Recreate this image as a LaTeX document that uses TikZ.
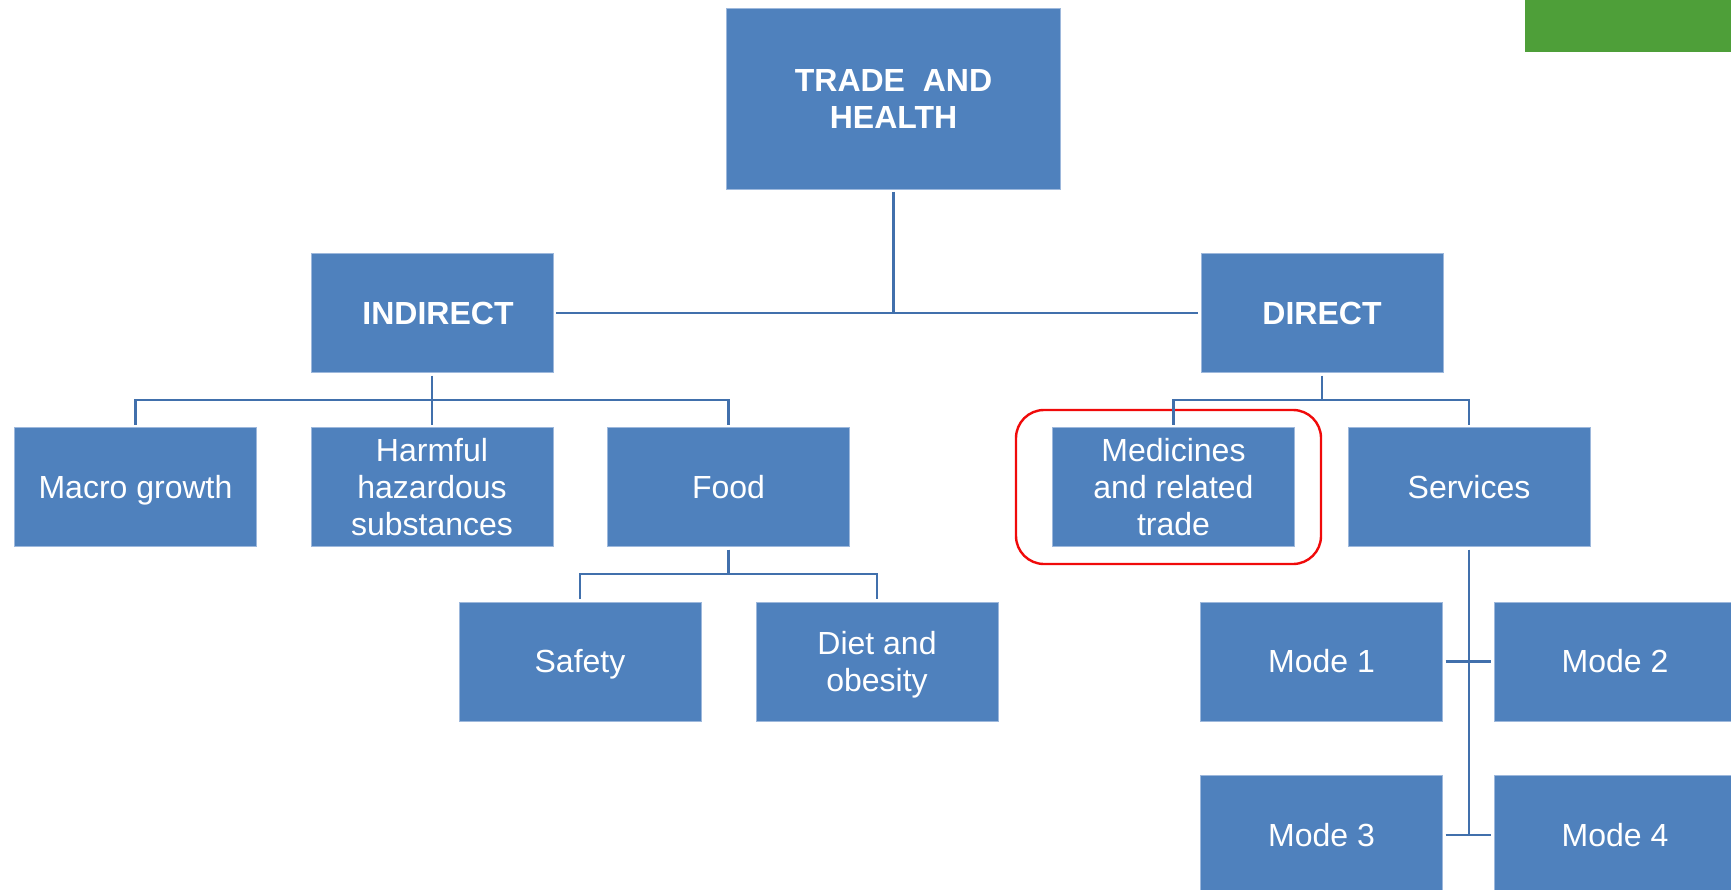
\documentclass[tikz,border=0pt]{standalone}
\usepackage{fontspec}
\setmainfont{Liberation Sans}
\usetikzlibrary{calc}
\definecolor{boxblue}{HTML}{4F81BD}
\definecolor{boxedge}{HTML}{9DB8DC}
\definecolor{linkblue}{HTML}{4170AC}
\definecolor{hlred}{HTML}{F00A0A}
\definecolor{corner}{HTML}{4E9F39}
\begin{document}
\begin{tikzpicture}[x=1pt,y=-1pt,
  box/.style={rectangle,fill=boxblue,draw=boxedge,line width=0.8pt,text=white,
    align=center,minimum width=242pt,minimum height=119pt,inner sep=0pt,outer sep=3pt,
    font=\fontsize{32}{36.8}\selectfont},
  one/.style={text height=29pt,text depth=6.8pt},
  topbox/.style={box,minimum width=334pt,minimum height=181pt,font=\fontsize{32}{37}\selectfont\bfseries},
  headbox/.style={box,font=\fontsize{32}{37}\selectfont\bfseries},
  link/.style={draw=linkblue,line width=2.2pt},
  highlight/.style={draw=hlred,line width=2.4pt,rounded corners=28pt}]
\clip (0,0) rectangle (1731,890);
\fill[white] (0,0) rectangle (1731,890);
\fill[corner] (1525,0) rectangle (1731,52);

\node[topbox] (top) at (893.5,98.5) {TRADE\ \ AND\\HEALTH};
\node[headbox,one] (indirect) at (432,313) {\hspace*{12pt}INDIRECT};
\node[headbox,one] (direct) at (1322,313) {DIRECT};

\node[box,one] (macro) at (135.5,487) {Macro growth};
\node[box] (harmful) at (432,487) {Harmful\\hazardous\\substances};
\node[box,one] (food) at (728.5,487) {Food};
\node[box] (medicines) at (1173.5,487) {Medicines\\and related\\trade};
\node[box,one] (services) at (1469,487) {Services};

\node[box,one] (safety) at (580,661.5) {Safety};
\node[box,text depth=0pt] (diet) at (877,661.5) {Diet and\\obesity};

\node[box,one] (mode1) at (1321.5,661.5) {Mode 1};
\node[box,one] (mode2) at (1615,661.5) {Mode 2};
\node[box,one] (mode3) at (1321.5,835) {Mode 3};
\node[box,one] (mode4) at (1615,835) {Mode 4};

\draw[highlight] (1016,410) rectangle (1321,564);

% top level
\draw[link] (top.south) -- (top.south |- indirect.east);
\draw[link] (indirect.east) -- (direct.west);

% indirect children
\coordinate (ibus) at ($(indirect.south)!0.5!(harmful.north)$);
\draw[link] (indirect.south) -- (ibus);
\draw[link] (macro.north) |- (ibus) -| (food.north);
\draw[link] (harmful.north) -- (ibus);

% food children
\coordinate (fbus) at ($(food.south)!0.5!(food.south |- safety.north)$);
\draw[link] (food.south) -- (fbus);
\draw[link] (safety.north) |- (fbus) -| (diet.north);

% direct children
\coordinate (dbus) at ($(direct.south)!0.5!(direct.south |- medicines.north)$);
\draw[link] (direct.south) -- (dbus);
\draw[link] (medicines.north) |- (dbus) -| (services.north);

% services modes
\draw[link] (services.south) -- (services.south |- mode3.east);
\draw[link] (mode1.east) -- (mode2.west);
\draw[link] (mode3.east) -- (mode4.west);
\end{tikzpicture}
\end{document}
